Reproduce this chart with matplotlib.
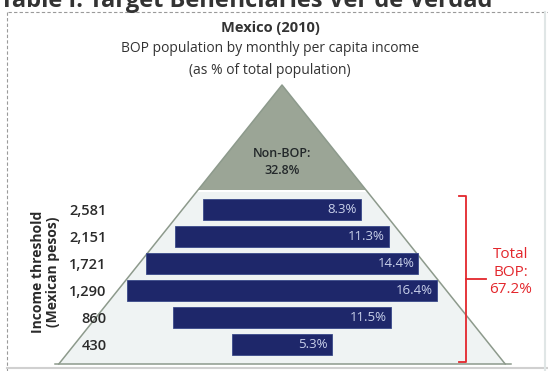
import matplotlib
matplotlib.use("Agg")
import matplotlib.pyplot as plt
from matplotlib.patches import Polygon
from matplotlib.lines import Line2D

plt.rcParams['font.family'] = ['Open Sans', 'DejaVu Sans']

# ---- data ----
thresholds = ["430", "860", "1,290", "1,721", "2,151", "2,581"]
bop_share = [5.3, 11.5, 16.4, 14.4, 11.3, 8.3]
non_bop = 32.8
total_bop = 67.2

W, H = 548, 371
fig = plt.figure(figsize=(W / 100, H / 100), dpi=100)
fig.patch.set_facecolor("white")

# overlay axes in pixel coordinates for the decorations
ov = fig.add_axes([0, 0, 1, 1])
ov.set_xlim(0, W)
ov.set_ylim(H, 0)
ov.axis("off")
ov.set_zorder(0)

apex = (282, 85)
slope = 0.8
split_y, base_y = 190, 364
def hw(y):
    return slope * (y - apex[1])

outline = "#8d9a8c"
# lower trapezoid (BOP)
ov.add_patch(Polygon([(apex[0] - hw(split_y + 2), split_y + 2), (apex[0] + hw(split_y + 2), split_y + 2),
                      (apex[0] + hw(base_y), base_y), (apex[0] - hw(base_y), base_y)],
                     closed=True, facecolor="#eff3f3", edgecolor="none"))
# top triangle (Non-BOP)
ov.add_patch(Polygon([apex, (apex[0] + hw(split_y), split_y), (apex[0] - hw(split_y), split_y)],
                     closed=True, facecolor="#9ba596", edgecolor="none"))
# outline
ov.add_line(Line2D([apex[0] - hw(base_y), apex[0], apex[0] + hw(base_y)],
                   [base_y, apex[1], base_y], color=outline, lw=1.1))
ov.add_line(Line2D([apex[0] - hw(base_y) - 4, apex[0] + hw(base_y) + 6], [base_y, base_y],
                   color=outline, lw=1.1))
ov.text(apex[0], 162, f"Non-BOP:\n{non_bop}%", ha="center", va="center", fontsize=9,
        fontweight=600, color="#23282a", linespacing=1.35)

# frame
ov.add_line(Line2D([8, W], [12, 12], color="#9a9a9a", lw=0.8, ls=(0, (3, 2))))
ov.add_line(Line2D([7, 7], [12, H], color="#9a9a9a", lw=0.8, ls=(0, (3, 2))))
ov.add_line(Line2D([7, W], [368, 368], color="#d0d0d0", lw=1.5))
ov.add_line(Line2D([545, 545], [12, H], color="#e0e6e6", lw=1.5))

# titles
fig.text(0.0, (H - 7) / H, "Table I. Target Beneficiaries Ver de Verdad", fontsize=17,
         fontweight="bold", color="#333333", ha="left", va="baseline")
ov.text(270, 28, "Mexico (2010)", ha="center", va="center", fontsize=10.5,
        fontweight="bold", color="#333333")
ov.text(270, 48, "BOP population by monthly per capita income", ha="center", va="center",
        fontsize=10, fontweight=500, color="#333333")
ov.text(270, 71, "(as % of total population)", ha="center", va="center",
        fontsize=10, fontweight=500, color="#333333")

# red bracket
red = "#e3262c"
ov.add_line(Line2D([459, 466, 466, 459], [196, 196, 362, 362], color=red, lw=1.3))
ov.add_line(Line2D([466, 486], [279, 279], color=red, lw=1.3))
ov.text(511, 272, f"Total\nBOP:\n{total_bop}%", ha="center", va="center", fontsize=11,
        color=red, linespacing=1.25)

# ---- bar axes ----
ax_l, ax_r, ax_t, ax_b = 115, 450, 196, 358
ax = fig.add_axes([ax_l / W, (H - ax_b) / H, (ax_r - ax_l) / W, (ax_b - ax_t) / H])
ax.set_zorder(1)
ax.patch.set_alpha(0)
px_per_pct = 18.95
cx = 282
ax.set_xlim((ax_l - cx) / px_per_pct, (ax_r - cx) / px_per_pct)
ax.set_ylim(-0.5, len(thresholds) - 0.5)

ypos = list(range(len(thresholds)))
lefts = [-v / 2 for v in bop_share]
ax.barh(ypos, bop_share, left=lefts, height=0.81, color="#1e276a", edgecolor="#3a4a8a", lw=0.6)
for y, v in zip(ypos, bop_share):
    ax.text(v / 2 - 0.22, y, f"{v}%", ha="right", va="center", fontsize=9.5, color="#c9d1ea")

ax.set_yticks(ypos)
ax.set_yticklabels(thresholds, fontsize=10.5, fontweight=600, color="#2a2a2a")
ax.tick_params(axis="y", length=0, pad=6)
ax.set_xticks([])
for s in ax.spines.values():
    s.set_visible(False)
ax.set_ylabel("Income threshold\n(Mexican pesos)", fontsize=10, fontweight="bold",
              color="#2a2a2a", linespacing=1.05)
ax.yaxis.set_label_coords(-0.165, 0.53)

fig.savefig("out.png", dpi=100)
